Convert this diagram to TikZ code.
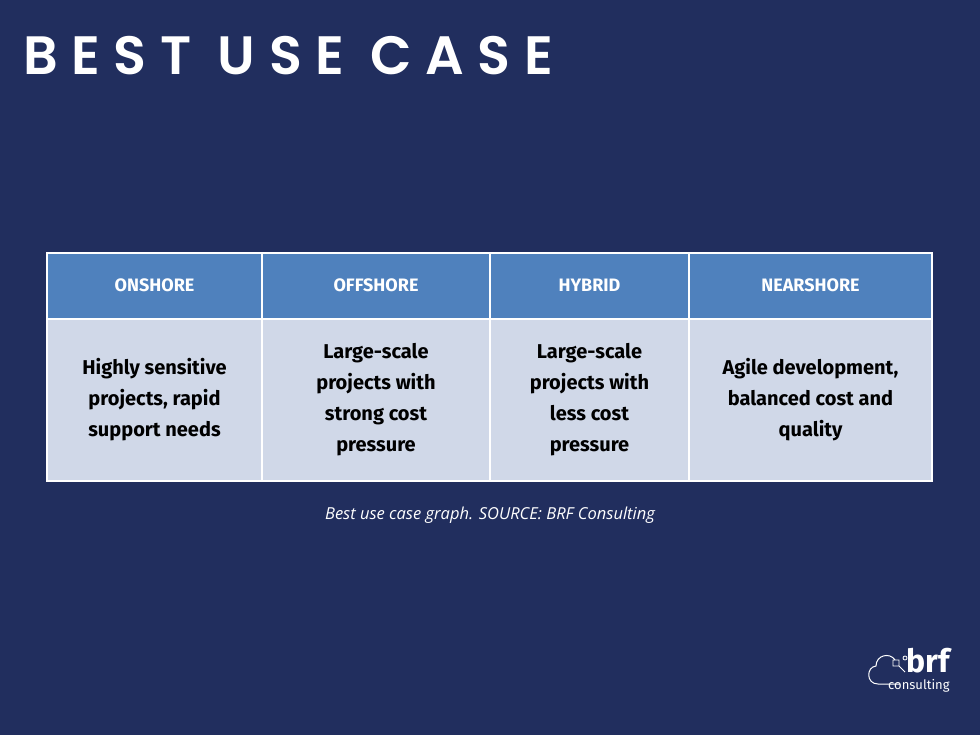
\documentclass[tikz,border=0pt]{standalone}
\usepackage{fontspec}
\setmainfont{Fira Sans}
\newfontfamily\titlefont[LetterSpace=25]{Poppins SemiBold}
\newfontfamily\capfont{Open Sans}
\definecolor{bgnavy}{HTML}{212E5E}
\definecolor{headblue}{HTML}{4F81BD}
\definecolor{cellgrey}{HTML}{D0D8E8}
\tikzset{
  headcell/.style={draw=white, line width=2pt, fill=headblue},
  bodycell/.style={draw=white, line width=2pt, fill=cellgrey}
}
\begin{document}
\begin{tikzpicture}[x=1pt,y=-1pt]
  \fill[bgnavy] (0,0) rectangle (980,735);
  \useasboundingbox (0,0) rectangle (980,735);
  % Title
  \node[anchor=west, text=white, font=\titlefont\fontsize{54}{60}\selectfont] (title) at (20,56) {BEST USE CASE};
  % Table cells
  \foreach \xa/\xb/\name/\head/\body in {
      47/262/on/ONSHORE/{Highly sensitive\\projects, rapid\\support needs},
      262/490/off/OFFSHORE/{Large-scale\\projects with\\strong cost\\pressure},
      490/689/hyb/HYBRID/{Large-scale\\projects with\\less cost\\pressure},
      689/932/near/NEARSHORE/{Agile development,\\balanced cost and\\quality}} {
    \path[headcell] (\xa,253) rectangle (\xb,319);
    \node[text=white, font=\fontsize{18}{20}\selectfont\bfseries] (h-\name) at ({(\xa+\xb)/2},285) {\head};
    \path[bodycell] (\xa,319) rectangle (\xb,481);
    \node[align=center, font=\fontsize{20}{31}\selectfont\bfseries] (b-\name) at ({(\xa+\xb)/2},400) {\body};
  }
  % Caption
  \node[text=white, font=\capfont\itshape\fontsize{16.5}{19}\selectfont] (caption) at (490,515) {Best use case graph. SOURCE: BRF Consulting};
  % Logo
  \draw[white, line width=1pt] (900,684) -- (878,684) .. controls (866,684) and (866,667) .. (876,666)
    .. controls (876,655) and (890,652) .. (895,660);
  \draw[white, line width=0.8pt] (893,660) rectangle (899,666) (899,666) -- (905,672) (905,658) circle (2);
  \node[text=white, font=\bfseries\fontsize{32}{32}\selectfont, anchor=base west, inner sep=0pt] (brf) at (906,672) {brf};
  \node[text=white, font=\fontsize{13}{13}\selectfont, anchor=base west, inner sep=0pt] (consulting) at (888,689) {consulting};
\end{tikzpicture}
\end{document}
